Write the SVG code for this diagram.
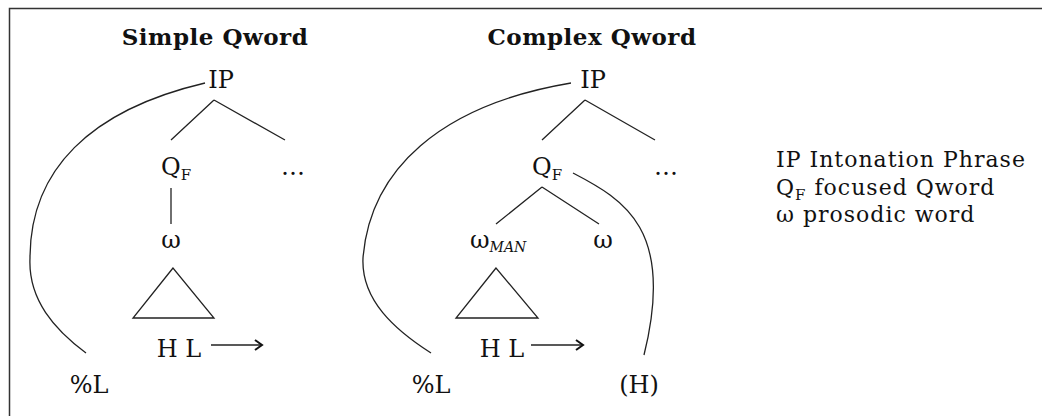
<svg xmlns="http://www.w3.org/2000/svg" width="1042" height="416" viewBox="0 0 1042 416">
<style>
  .t{font-family:"DejaVu Serif","Liberation Serif",serif;font-size:24px;fill:#111}
  .title{font-family:"DejaVu Serif","Liberation Serif",serif;font-size:23px;font-weight:bold;letter-spacing:0.5px;fill:#111}
  .sub{font-size:15px}
  .subi{font-size:14px;font-style:italic}
  .leg{font-family:"DejaVu Serif","Liberation Serif",serif;font-size:22px;letter-spacing:1px;fill:#111}
  .ln{fill:none;stroke:#222;stroke-width:1.3}
</style>
<defs>
  <marker id="ah" markerWidth="12" markerHeight="12" refX="10" refY="6" orient="auto" markerUnits="userSpaceOnUse">
    <path d="M3,1 L10,6 L3,11" fill="none" stroke="#111" stroke-width="2"/>
  </marker>
</defs>
<rect x="9.5" y="8.5" width="1040" height="420" fill="#fff" stroke="#333" stroke-width="1.5"/>
<g id="titles">
  <text class="title" x="215" y="45" text-anchor="middle">Simple Qword</text>
  <text class="title" x="592" y="45" text-anchor="middle">Complex Qword</text>
</g>
<g id="connectors">
  <path class="ln" d="M205,83 C90,110 30,170 30,258 C28,300 55,330 86,353"/>
  <path class="ln" d="M214,100 L171,140 M214,100 L285,140"/>
  <path class="ln" d="M171,188 L171,224"/>
  <path class="ln" d="M173,268 L133,318 L214,318 Z"/>
  <path class="ln" d="M211,345 L262,345" marker-end="url(#ah)"/>
  <path class="ln" d="M571,83 C440,105 370,170 363,258 C361,300 395,330 431,353"/>
  <path class="ln" d="M585,100 L542,140 M585,100 L655,140"/>
  <path class="ln" d="M542,187 L496,224 M542,187 L599,224"/>
  <path class="ln" d="M573,173 C625,200 675,230 644,355"/>
  <path class="ln" d="M496,268 L456,318 L538,318 Z"/>
  <path class="ln" d="M531,345 L583,345" marker-end="url(#ah)"/>
</g>
<g id="simple">
  <g id="s-ip"><text class="t" x="221" y="88" text-anchor="middle">IP</text></g>
  <g id="s-qf"><text class="t" x="161" y="175">Q<tspan class="sub" dy="5">F</tspan></text></g>
  <g id="s-dots"><text class="t" x="293" y="175" text-anchor="middle">…</text></g>
  <g id="s-w"><text class="t" x="171" y="248" text-anchor="middle">ω</text></g>
  <g id="s-hl"><text class="t" x="179" y="357" text-anchor="middle">H L</text></g>
  <g id="s-pl"><text class="t" x="89" y="393" text-anchor="middle">%L</text></g>
</g>
<g id="complex">
  <g id="c-ip"><text class="t" x="593" y="88" text-anchor="middle">IP</text></g>
  <g id="c-qf"><text class="t" x="532" y="175">Q<tspan class="sub" dy="5">F</tspan></text></g>
  <g id="c-dots"><text class="t" x="666" y="175" text-anchor="middle">…</text></g>
  <g id="c-wman"><text class="t" x="470" y="248">ω<tspan class="subi" dy="4">MAN</tspan></text></g>
  <g id="c-w"><text class="t" x="603" y="248" text-anchor="middle">ω</text></g>
  <g id="c-hl"><text class="t" x="502" y="357" text-anchor="middle">H L</text></g>
  <g id="c-pl"><text class="t" x="431" y="393" text-anchor="middle">%L</text></g>
  <g id="c-h"><text class="t" x="639" y="393" text-anchor="middle">(H)</text></g>
</g>
<g id="legend">
  <text class="leg" x="776" y="167">IP Intonation Phrase</text>
  <text class="leg" x="776" y="195">Q<tspan class="sub" dy="5">F</tspan><tspan dy="-5"> focused Qword</tspan></text>
  <text class="leg" x="776" y="222">ω prosodic word</text>
</g>
</svg>
